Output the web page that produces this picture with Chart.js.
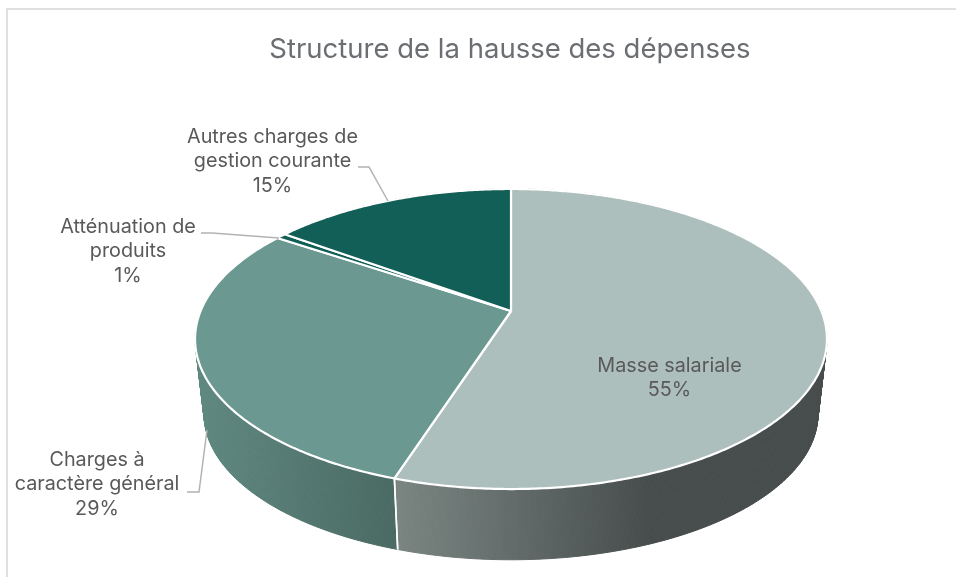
<!DOCTYPE html>
<html><head><meta charset="utf-8">
<style>
html,body{margin:0;padding:0;background:#fff}
#frame{position:absolute;left:6px;top:8px;width:960px;height:580px;border:2px solid #e0e0e0;box-sizing:border-box}
#wrap{position:absolute;left:0;top:0;width:956px;height:577px;overflow:hidden}
canvas{position:absolute;left:0;top:0}
</style>
<script src="https://cdn.jsdelivr.net/npm/chart.js@4"></script>
</head><body>
<div id="wrap"><div id="frame"></div><canvas id="c" width="956" height="577"></canvas></div>
<script>
const titleText = 'Structure de la hausse des dépenses';
const categories = ['Masse salariale', 'Charges à caractère général', 'Atténuation de produits', 'Autres charges de gestion courante'];
const values = [55, 29.4, 0.6, 15];
const topColors = ['#adbfbc', '#6b9890', '#0f5f57', '#125f58'];
const sideStart = ['#7a8582', '#5f8880', '#0c4a44', '#0c4a44'];
const sideEnd = ['#464d4c', '#4a6a63', '#0c4a44', '#0c4a44'];
const labelLines = [['Masse salariale'], ['Charges à', 'caractère général'], ['Atténuation de', 'produits'], ['Autres charges de', 'gestion courante']];

// label layout: centre x, first-line centre y
const labelPos = [[669.5, 366], [97, 460], [128, 227], [272.5, 137]];
const leaders = [null, [[187, 492], [199, 492], [207, 430]], [[201, 233], [212, 233], [279, 238]], [[358, 167], [369, 167], [388, 201]]];
const gradX = [[398, 650], [200, 396], [0, 1], [0, 1]];

// perspective projection of the disc
const P = {cx: 511, cy: 311, a: 144.8, b: 310.4, k: -0.1867, ex: 511, ey: 339, s: 0.9715, by: 414};
function topPt(ang) {
  const X = Math.cos(ang), Y = Math.sin(ang), d = 1 + P.k * Y;
  return [P.cx + P.b * X / d, P.cy + P.a * Y / d];
}
function botPt(ang) {
  const p = topPt(ang);
  return [P.ex + P.s * (p[0] - P.ex), P.by + P.s * (p[1] - P.ey)];
}

const pie3d = {
  id: 'pie3d',
  beforeDatasetDraw(chart) {
    const ctx = chart.ctx, arcs = chart.getDatasetMeta(0).data;
    ctx.save();
    // sides
    arcs.forEach((el, i) => {
      const p = el.getProps(['startAngle', 'endAngle'], true);
      const g = ctx.createLinearGradient(gradX[i][0], 0, gradX[i][1], 0);
      g.addColorStop(0, sideStart[i]); g.addColorStop(1, sideEnd[i]);
      ctx.fillStyle = g; ctx.strokeStyle = g; ctx.lineWidth = 1;
      const n = Math.max(4, Math.ceil((p.endAngle - p.startAngle) / 0.01));
      for (let j = 0; j < n; j++) {
        const a0 = p.startAngle + (p.endAngle - p.startAngle) * j / n;
        const a1 = p.startAngle + (p.endAngle - p.startAngle) * (j + 1) / n;
        const A = topPt(a0), B = topPt(a1), C = botPt(a1), D = botPt(a0);
        ctx.beginPath(); ctx.moveTo(A[0], A[1]); ctx.lineTo(B[0], B[1]); ctx.lineTo(C[0], C[1]); ctx.lineTo(D[0], D[1]); ctx.closePath();
        ctx.fill(); ctx.stroke();
      }
    });
    // white separators on the side
    ctx.strokeStyle = '#fff'; ctx.lineWidth = 1.6;
    arcs.forEach(el => {
      const p = el.getProps(['startAngle', 'endAngle'], true);
      [p.startAngle, p.endAngle].forEach(a => {
        if (Math.sin(a) <= 0) return;
        const A = topPt(a), D = botPt(a);
        ctx.beginPath(); ctx.moveTo(A[0], A[1]); ctx.lineTo(D[0], D[1]); ctx.stroke();
      });
    });
    // top faces
    arcs.forEach((el, i) => {
      const p = el.getProps(['startAngle', 'endAngle'], true);
      const n = Math.max(4, Math.ceil((p.endAngle - p.startAngle) / 0.01));
      ctx.beginPath(); ctx.moveTo(P.cx, P.cy);
      for (let j = 0; j <= n; j++) {
        const q = topPt(p.startAngle + (p.endAngle - p.startAngle) * j / n);
        ctx.lineTo(q[0], q[1]);
      }
      ctx.closePath();
      ctx.fillStyle = el.options.backgroundColor; ctx.fill();
      ctx.strokeStyle = '#fff'; ctx.lineWidth = 2.2; ctx.lineJoin = 'round'; ctx.stroke();
    });
    ctx.restore();
    return false;
  },
  afterDatasetsDraw(chart) {
    const ctx = chart.ctx, total = values.reduce((a, b) => a + b, 0);
    ctx.save();
    ctx.strokeStyle = '#b0b3b5'; ctx.lineWidth = 1.5;
    leaders.forEach(l => {
      if (!l) return;
      ctx.beginPath(); ctx.moveTo(l[0][0], l[0][1]);
      l.slice(1).forEach(q => ctx.lineTo(q[0], q[1]));
      ctx.stroke();
    });
    ctx.fillStyle = '#595959'; ctx.font = '19.8px Inter'; ctx.textAlign = 'center'; ctx.textBaseline = 'middle';
    labelLines.forEach((ls, i) => {
      const lines = ls.concat([Math.round(values[i] / total * 100) + '%']);
      lines.forEach((t, j) => ctx.fillText(t, labelPos[i][0], labelPos[i][1] + j * 24.5));
    });
    ctx.restore();
  }
};

new Chart(document.getElementById('c'), {
  type: 'pie',
  data: {labels: categories, datasets: [{data: values, backgroundColor: topColors, borderColor: '#fff', borderWidth: 2}]},
  options: {
    responsive: false, animation: false, devicePixelRatio: 1,
    layout: {padding: {left: 64, right: 0, top: 0, bottom: 0}},
    plugins: {
      legend: {display: false}, tooltip: {enabled: false},
      title: {display: true, text: titleText, color: '#6b6e72', font: {family: 'Inter', size: 27.5, weight: 'normal'}, padding: {top: 33, bottom: 10}}
    }
  },
  plugins: [pie3d]
});
</script>
</body></html>
